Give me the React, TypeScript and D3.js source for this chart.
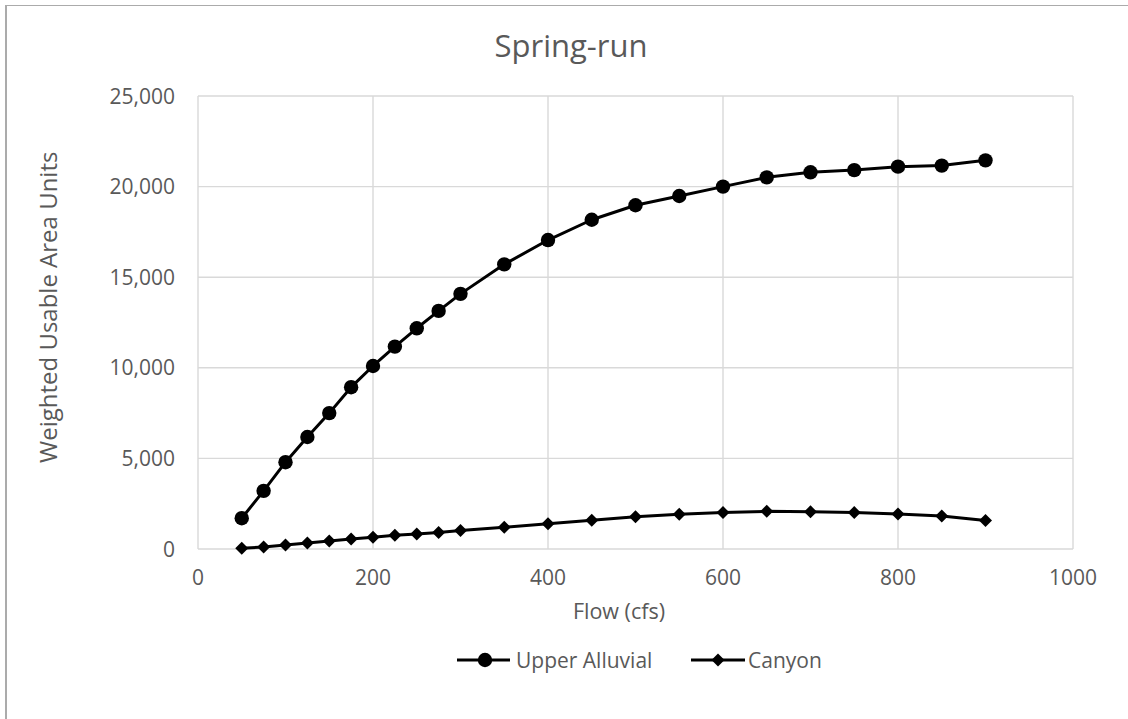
import React from "react";
import * as d3 from "d3";

const flows = [50, 75, 100, 125, 150, 175, 200, 225, 250, 275, 300, 350, 400, 450, 500, 550, 600, 650, 700, 750, 800, 850, 900];
const upperAlluvial = [1700, 3210, 4790, 6180, 7500, 8930, 10100, 11170, 12180, 13140, 14080, 15710, 17050, 18170, 18970, 19480, 20000, 20510, 20790, 20910, 21100, 21160, 21450];
const canyon = [40, 110, 220, 330, 440, 550, 650, 760, 830, 910, 1020, 1200, 1390, 1590, 1780, 1920, 2010, 2080, 2050, 2010, 1930, 1820, 1570];
const xTicks = [0, 200, 400, 600, 800, 1000];
const yTicks = [0, 5000, 10000, 15000, 20000, 25000];
const seriesNames = ["Upper Alluvial", "Canyon"];
const title = "Spring-run";
const xTitle = "Flow (cfs)";
const yTitle = "Weighted Usable Area Units";

const W = 1128;
const H = 719;
const FONT = "'Open Sans', sans-serif";
const TEXT = "#595959";
const GRID = "#d9d9d9";

export default function App() {
  const x = d3.scaleLinear().domain([0, 1000]).range([198, 1073]);
  const y = d3.scaleLinear().domain([0, 25000]).range([549, 96]);
  const fmt = d3.format(",");
  const line = d3
    .line<[number, number]>()
    .x((d) => x(d[0]))
    .y((d) => y(d[1]));
  const ua: [number, number][] = flows.map((f, i) => [f, upperAlluvial[i]]);
  const cy: [number, number][] = flows.map((f, i) => [f, canyon[i]]);
  const diamond = (cx: number, cyy: number, s: number) =>
    `M${cx},${cyy - s}L${cx + s},${cyy}L${cx},${cyy + s}L${cx - s},${cyy}Z`;

  return (
    <svg
      width={W}
      height={H}
      style={{ position: "absolute", left: 0, top: 0, background: "#fff" }}
      fontFamily={FONT}
    >
      <rect x={0} y={0} width={W} height={H} fill="#fff" />
      {/* outer chart border (cropped) */}
      <line x1={6} y1={5} x2={6} y2={H} stroke="#ababab" strokeWidth={2} />
      <line x1={5} y1={5.5} x2={W} y2={5.5} stroke="#ababab" strokeWidth={1} />

      {/* gridlines */}
      {yTicks.map((t) => (
        <line key={"gy" + t} x1={x(0)} x2={x(1000)} y1={y(t)} y2={y(t)} stroke={GRID} strokeWidth={1.4} />
      ))}
      {xTicks.map((t) => (
        <line key={"gx" + t} x1={x(t)} x2={x(t)} y1={y(0)} y2={y(25000)} stroke={GRID} strokeWidth={1.4} />
      ))}

      {/* tick labels */}
      {yTicks.map((t) => (
        <text key={"ty" + t} x={175} y={y(t) + 7.5} textAnchor="end" fontSize={21} fill={TEXT}>
          {fmt(t)}
        </text>
      ))}
      {xTicks.map((t) => (
        <text key={"tx" + t} x={x(t)} y={585} textAnchor="middle" fontSize={21} fill={TEXT}>
          {t}
        </text>
      ))}

      {/* titles */}
      <text x={571} y={57} textAnchor="middle" fontSize={31} fill={TEXT}>
        {title}
      </text>
      <text x={619} y={619} textAnchor="middle" fontSize={21.5} fill={TEXT}>
        {xTitle}
      </text>
      <text
        transform={`translate(57,463) rotate(-90)`}
        textAnchor="start"
        fontSize={24}
        fill={TEXT}
      >
        {yTitle}
      </text>

      {/* series */}
      <path d={line(cy) || ""} fill="none" stroke="#000" strokeWidth={3} strokeLinejoin="round" />
      {cy.map((d, i) => (
        <path key={"cm" + i} d={diamond(x(d[0]), y(d[1]), 6.5)} fill="#000" />
      ))}
      <path d={line(ua) || ""} fill="none" stroke="#000" strokeWidth={3} strokeLinejoin="round" />
      {ua.map((d, i) => (
        <circle key={"um" + i} cx={x(d[0])} cy={y(d[1])} r={7.2} fill="#000" />
      ))}

      {/* legend */}
      <line x1={457} x2={510} y1={660} y2={660} stroke="#000" strokeWidth={3} />
      <circle cx={485} cy={660} r={7.2} fill="#000" />
      <text x={516} y={667.5} fontSize={21} fill={TEXT}>
        {seriesNames[0]}
      </text>
      <line x1={691} x2={745} y1={660} y2={660} stroke="#000" strokeWidth={3} />
      <path d={diamond(718, 660, 6.5)} fill="#000" />
      <text x={748} y={667.5} fontSize={21} fill={TEXT}>
        {seriesNames[1]}
      </text>
    </svg>
  );
}
